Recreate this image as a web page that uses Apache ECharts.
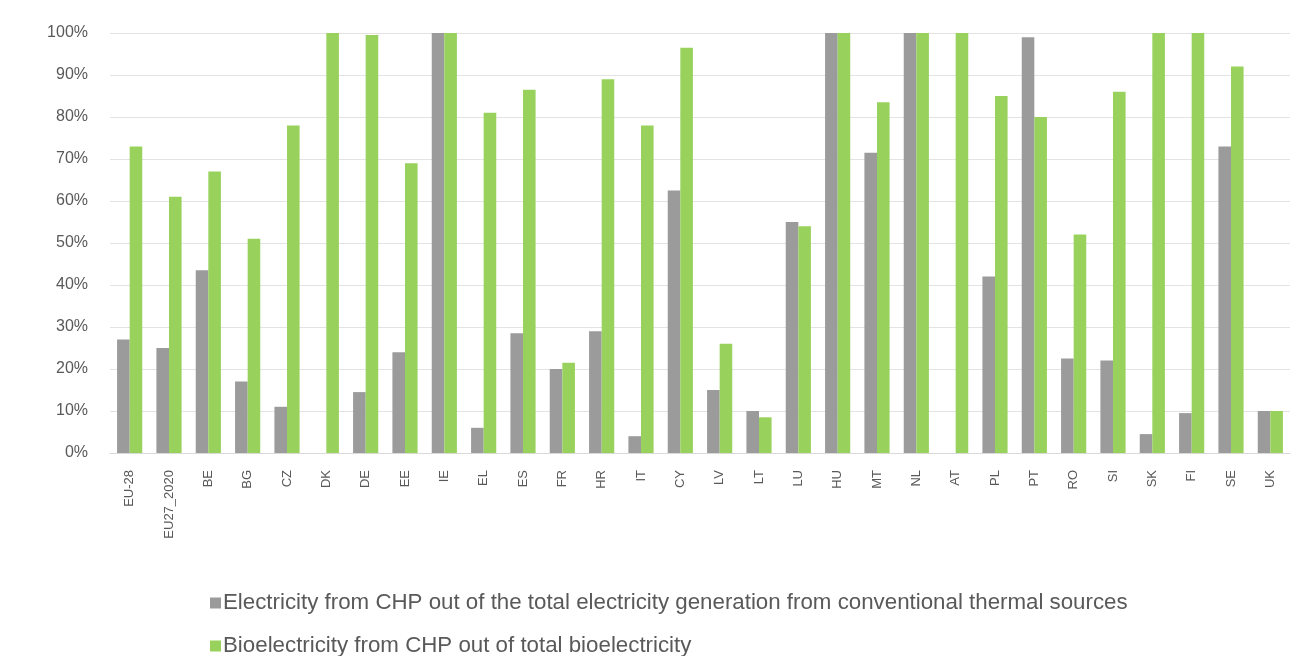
<!DOCTYPE html>
<html>
<head>
<meta charset="utf-8">
<title>CHP share of electricity and bioelectricity</title>
<script src="https://cdn.jsdelivr.net/npm/echarts@6/dist/echarts.min.js"></script>
<style>
  html, body { margin: 0; padding: 0; background: #ffffff; }
  #chart { width: 1315px; height: 656px; }
</style>
</head>
<body>
<div id="chart"></div>
<script>
// Reporting areas: the two EU aggregates followed by the member states
const categories = [
  'EU-28', 'EU27_2020', 'BE', 'BG', 'CZ', 'DK', 'DE', 'EE', 'IE', 'EL',
  'ES', 'FR', 'HR', 'IT', 'CY', 'LV', 'LT', 'LU', 'HU', 'MT',
  'NL', 'AT', 'PL', 'PT', 'RO', 'SI', 'SK', 'FI', 'SE', 'UK'
];

// Share of electricity from CHP in total conventional thermal generation (%)
const chpThermalShare = [
  27, 25, 43.5, 17, 11, 0, 14.5, 24, 100, 6,
  28.5, 20, 29, 4, 62.5, 15, 10, 55, 100, 71.5,
  100, 0, 42, 99, 22.5, 22, 4.5, 9.5, 73, 10
];

// Share of bioelectricity from CHP in total bioelectricity (%)
const chpBioShare = [
  73, 61, 67, 51, 78, 100, 99.5, 69, 100, 81,
  86.5, 21.5, 89, 78, 96.5, 26, 8.5, 54, 100, 83.5,
  100, 100, 85, 80, 52, 86, 100, 100, 92, 10
];

// Y-axis tick values (%)
const yTicks = { min: 0, max: 100, step: 10 };

const seriesNames = [
  'Electricity from CHP out of the total electricity generation from conventional thermal sources',
  'Bioelectricity from CHP out of total bioelectricity'
];

const textColor = '#595959';
const font = 'Liberation Sans, Arial, sans-serif';

// One legend row per series, stacked under the chart
function legendRow(name, top) {
  return {
    orient: 'horizontal',
    left: 205,
    top: top,
    itemWidth: 11,
    itemHeight: 11,
    icon: 'rect',
    textStyle: { fontFamily: font, fontSize: 22.3, color: textColor, padding: [0, 0, 0, -3] },
    data: [name]
  };
}

const chart = echarts.init(document.getElementById('chart'), null, { renderer: 'canvas' });

chart.setOption({
  backgroundColor: '#ffffff',
  animation: false,
  textStyle: { fontFamily: font, color: textColor },
  grid: { left: 110, right: 25, top: 33, bottom: 203, containLabel: false },
  legend: [
    legendRow(seriesNames[0], 587),
    legendRow(seriesNames[1], 630)
  ],
  xAxis: {
    type: 'category',
    data: categories,
    axisTick: { show: false },
    axisLine: { show: true, lineStyle: { color: '#d9d9d9', width: 1 } },
    axisLabel: {
      rotate: 90,
      interval: 0,
      margin: 17,
      fontSize: 13,
      fontFamily: font,
      color: textColor
    }
  },
  yAxis: {
    type: 'value',
    min: yTicks.min,
    max: yTicks.max,
    interval: yTicks.step,
    axisLine: { show: false },
    axisTick: { show: false },
    splitLine: { lineStyle: { color: '#e3e3e3', width: 1 } },
    axisLabel: {
      formatter: '{value}%',
      margin: 22,
      fontSize: 16,
      fontFamily: font,
      color: textColor
    }
  },
  series: [
    {
      name: seriesNames[0],
      type: 'bar',
      data: chpThermalShare,
      barGap: '0%',
      barCategoryGap: '36%',
      itemStyle: { color: '#9b9b9b' }
    },
    {
      name: seriesNames[1],
      type: 'bar',
      data: chpBioShare,
      barGap: '0%',
      barCategoryGap: '36%',
      itemStyle: { color: '#98d25c' }
    }
  ]
});
</script>
</body>
</html>
